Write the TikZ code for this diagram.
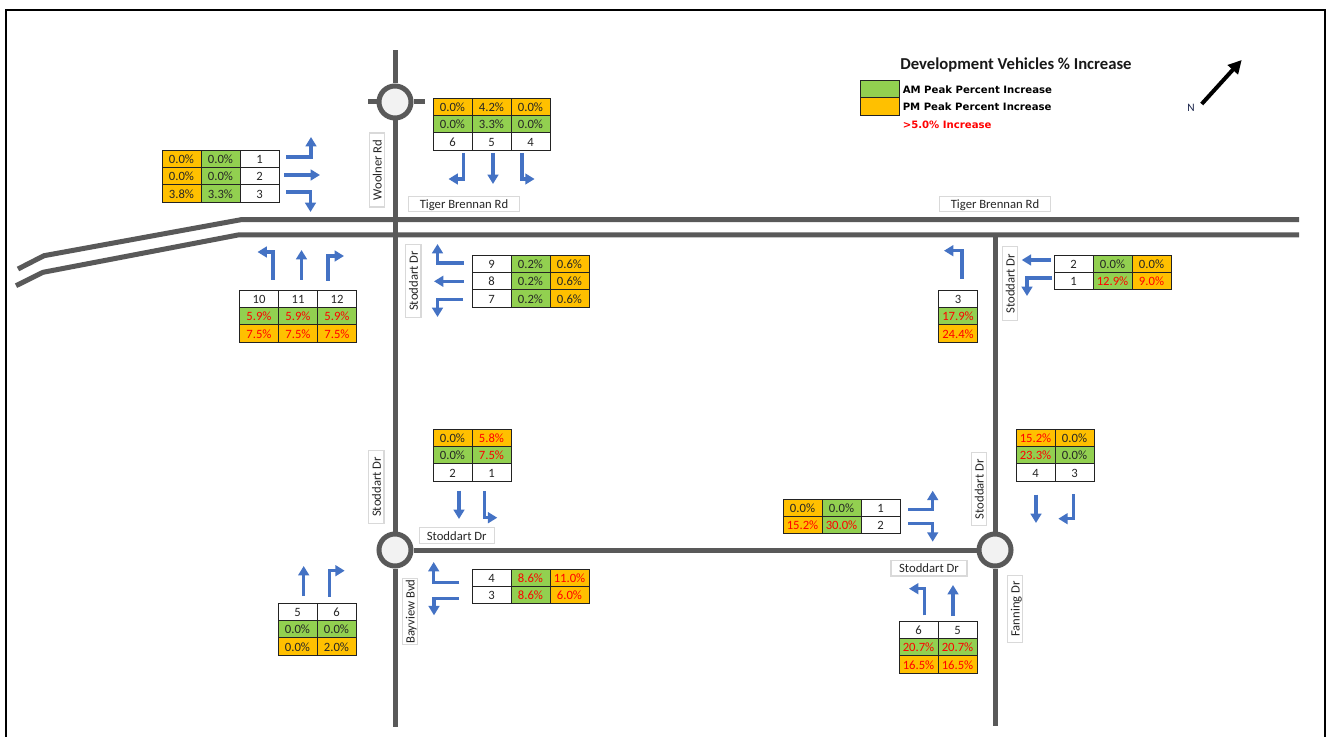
\documentclass[tikz,border=0pt]{standalone}
\usepackage{fontspec}
\setmainfont{Carlito}
\newfontfamily\legendfont{DejaVu Sans}
\usetikzlibrary{arrows.meta}
\definecolor{RoadGrey}{RGB}{89,89,89}
\definecolor{HubFill}{RGB}{242,242,242}
\definecolor{NameEdge}{RGB}{217,217,217}
\definecolor{MoveBlue}{RGB}{68,114,196}
\definecolor{AmGreen}{RGB}{146,208,80}
\definecolor{PmAmber}{RGB}{255,192,0}
\definecolor{HotRed}{RGB}{255,0,0}
\definecolor{CellEdge}{RGB}{35,35,35}
\definecolor{NorthNavy}{RGB}{20,30,70}
\tikzset{
  road/.style={draw=RoadGrey,line width=3.75pt},
  hub/.style={circle,draw=RoadGrey,line width=3.75pt,fill=HubFill,minimum size=24pt,inner sep=0pt},
  roadname/.style={draw=NameEdge,line width=.9pt,fill=white,font=\fontsize{9.5}{10}\selectfont,text=black!85,minimum width=#1*.75pt,minimum height=11.5pt,inner sep=0pt,text height=6.8pt,text depth=0pt},
  move/.style={-{Triangle[length=7pt,width=8pt]},draw=MoveBlue,line width=2.4pt},
  cell/.style={draw=CellEdge,line width=.7pt,minimum width=29.25pt,minimum height=13.05pt,inner sep=0pt,font=\fontsize{9.5}{10}\selectfont,text=black!85,text height=7pt,text depth=0pt},
  cellW/.style={cell,fill=white},
  cellG/.style={cell,fill=AmGreen},
  cellO/.style={cell,fill=PmAmber},
  hotG/.style={cellG,text=HotRed},
  hotO/.style={cellO,text=HotRed},
  legendtext/.style={anchor=west,inner sep=0pt,font=\legendfont\bfseries\fontsize{7.6}{9}\selectfont}
}
% one table: name, left edge, top edge, col/row/style/text
\newcommand{\celltable}[4]{%
  \foreach \cl/\rw/\kind/\val in {#4}
    \node[\kind] (#1-\cl-\rw) at (#2+\cl*39+19.5,#3+\rw*17.4+8.7) {\val};
}
\begin{document}
\begin{tikzpicture}[x=.75pt,y=-.75pt]
  \useasboundingbox (0,0) rectangle (1326,737);
  \fill[white] (0,0) rectangle (1326,737);
  \draw[black,line width=1.5pt] (6,737)--(6,10.5)--(1325,10.5)--(1325,737);

  % roads
  \node[hub] (hubNorth) at (395,102) {};
  \node[hub] (hubWest) at (395,550) {};
  \node[hub] (hubEast) at (995,550) {};
  \coordinate (woolnerTop) at (395,50);
  \coordinate (stubLeft) at (368,102);
  \coordinate (stubRight) at (425,102);
  \coordinate (bayviewEnd) at (395,727);
  \coordinate (fanningEnd) at (995,726);
  \coordinate (fanningTop) at (995,235);
  \draw[road] (hubNorth)--(woolnerTop);
  \draw[road] (hubNorth)--(stubLeft);
  \draw[road] (hubNorth)--(stubRight);
  \draw[road] (hubNorth)--(hubWest);
  \draw[road] (hubWest)--(bayviewEnd);
  \draw[road] (hubWest)--(hubEast);
  \draw[road] (fanningTop)--(hubEast);
  \draw[road] (hubEast)--(fanningEnd);
  \draw[road] (1299,219.7)--(241,219.7)--(44,255.7)--(18,269);
  \draw[road] (1299,235)--(238,235)--(43,272.3)--(16,285.7);

  % road names
  \node[roadname=74,rotate=90] (nameWoolner) at (377,170) {Woolner Rd};
  \node[roadname=111] (nameTigerA) at (464,204) {Tiger Brennan Rd};
  \node[roadname=111] (nameTigerB) at (995,204) {Tiger Brennan Rd};
  \node[roadname=73,rotate=90] (nameStoddartA) at (413.4,281) {Stoddart Dr};
  \node[roadname=74,rotate=90] (nameStoddartB) at (1010,283.7) {Stoddart Dr};
  \node[roadname=73,rotate=90] (nameStoddartC) at (376.3,487) {Stoddart Dr};
  \node[roadname=75] (nameStoddartD) at (456.7,535.5) {Stoddart Dr};
  \node[roadname=66,rotate=90] (nameBayview) at (410,611.7) {Bayview Bvd};
  \node[roadname=73,rotate=90] (nameStoddartE) at (979,489.3) {Stoddart Dr};
  \node[roadname=76] (nameStoddartF) at (929,568.3) {Stoddart Dr};
  \node[roadname=67,rotate=90] (nameFanning) at (1015,609) {Fanning Dr};

  % tables
  \celltable{tigerWest}{162}{150}{0/0/cellO/0.0\%,1/0/cellG/0.0\%,2/0/cellW/1,0/1/cellO/0.0\%,1/1/cellG/0.0\%,2/1/cellW/2,0/2/cellO/3.8\%,1/2/cellG/3.3\%,2/2/cellW/3}
  \celltable{woolner}{433}{98}{0/0/cellO/0.0\%,1/0/cellO/4.2\%,2/0/cellO/0.0\%,0/1/cellG/0.0\%,1/1/cellG/3.3\%,2/1/cellG/0.0\%,0/2/cellW/6,1/2/cellW/5,2/2/cellW/4}
  \celltable{stoddartN}{239.5}{290}{0/0/cellW/10,1/0/cellW/11,2/0/cellW/12,0/1/hotG/5.9\%,1/1/hotG/5.9\%,2/1/hotG/5.9\%,0/2/hotO/7.5\%,1/2/hotO/7.5\%,2/2/hotO/7.5\%}
  \celltable{tigerEast}{472}{255}{0/0/cellW/9,1/0/cellG/0.2\%,2/0/cellO/0.6\%,0/1/cellW/8,1/1/cellG/0.2\%,2/1/cellO/0.6\%,0/2/cellW/7,1/2/cellG/0.2\%,2/2/cellO/0.6\%}
  \celltable{fanningN}{938.5}{290}{0/0/cellW/3,0/1/hotG/17.9\%,0/2/hotO/24.4\%}
  \celltable{tigerFar}{1054}{255}{0/0/cellW/2,1/0/cellG/0.0\%,2/0/cellO/0.0\%,0/1/cellW/1,1/1/hotG/12.9\%,2/1/hotO/9.0\%}
  \celltable{hubWestN}{433}{429}{0/0/cellO/0.0\%,1/0/hotO/5.8\%,0/1/cellG/0.0\%,1/1/hotG/7.5\%,0/2/cellW/2,1/2/cellW/1}
  \celltable{hubWestS}{278}{603}{0/0/cellW/5,1/0/cellW/6,0/1/cellG/0.0\%,1/1/cellG/0.0\%,0/2/cellO/0.0\%,1/2/cellO/2.0\%}
  \celltable{hubWestE}{472}{569}{0/0/cellW/4,1/0/hotG/8.6\%,2/0/hotO/11.0\%,0/1/cellW/3,1/1/hotG/8.6\%,2/1/hotO/6.0\%}
  \celltable{hubEastW}{783}{499}{0/0/cellO/0.0\%,1/0/cellG/0.0\%,2/0/cellW/1,0/1/hotO/15.2\%,1/1/hotG/30.0\%,2/1/cellW/2}
  \celltable{hubEastN}{1016}{429}{0/0/hotO/15.2\%,1/0/cellO/0.0\%,0/1/hotG/23.3\%,1/1/cellG/0.0\%,0/2/cellW/4,1/2/cellW/3}
  \celltable{hubEastS}{899}{621}{0/0/cellW/6,1/0/cellW/5,0/1/hotG/20.7\%,1/1/hotG/20.7\%,0/2/hotO/16.5\%,1/2/hotO/16.5\%}

  % turning movements
  \draw[move] (286,157)-|(311,137);
  \draw[move] (284,175)--(320,175);
  \draw[move] (286,192)-|(310.5,212);
  \draw[move] (463.5,153)|-(448.5,179);
  \draw[move] (493,153)--(493,184);
  \draw[move] (522,153)|-(534.6,179);
  \draw[move] (273,280)|-(257.5,252);
  \draw[move] (301.5,280)--(301.5,250);
  \draw[move] (328,281)|-(344,256);
  \draw[move] (463.5,263)-|(437.5,244);
  \draw[move] (463.5,281.3)--(434,281.3);
  \draw[move] (463,299.7)-|(437.5,317);
  \draw[move] (962,279)|-(944,250.7);
  \draw[move] (1050.7,260)--(1021.7,260);
  \draw[move] (1051.7,278)-|(1027,296);
  \draw[move] (303.7,596)--(303.7,566);
  \draw[move] (329.3,596.7)|-(344.7,570.7);
  \draw[move] (459,490.7)--(459,519);
  \draw[move] (484.7,491)|-(497.3,517.7);
  \draw[move] (459.3,582.3)-|(433.7,562);
  \draw[move] (458.7,598.3)-|(434,615.3);
  \draw[move] (908.3,509.3)-|(932.7,490.7);
  \draw[move] (908.3,523.7)-|(932.7,541.7);
  \draw[move] (1036,494.7)--(1036,523);
  \draw[move] (1073.7,494)|-(1058.3,518.7);
  \draw[move] (924.3,615.3)|-(909,588.7);
  \draw[move] (953,616)--(953,585);

  % legend
  \node[font=\bfseries\fontsize{12.5}{14}\selectfont,text=black!90] (legendTitle) at (1016,64.5) {Development Vehicles \% Increase};
  \node[draw=CellEdge,line width=.8pt,fill=AmGreen,minimum width=29.5pt,minimum height=13.1pt,inner sep=0pt] (swatchAm) at (880,89) {};
  \node[draw=CellEdge,line width=.8pt,fill=PmAmber,minimum width=29.5pt,minimum height=13.1pt,inner sep=0pt] (swatchPm) at (880,106.5) {};
  \node[legendtext] (legendAm) at (902.5,89.5) {AM Peak Percent Increase};
  \node[legendtext] (legendPm) at (902.5,107) {PM Peak Percent Increase};
  \node[legendtext,text=HotRed] (legendHot) at (902.5,124.5) {>5.0\% Increase};

  % north arrow
  \node[font=\fontsize{8.5}{9}\selectfont,text=NorthNavy,inner sep=0pt] (northMark) at (1191,107.5) {N};
  \coordinate (northTail) at (1201.7,104);
  \coordinate (northTip) at (1241.7,60);
  \draw[-{Triangle[length=10pt,width=10pt]},line width=3pt,black] (northTail)--(northTip);
\end{tikzpicture}
\end{document}
